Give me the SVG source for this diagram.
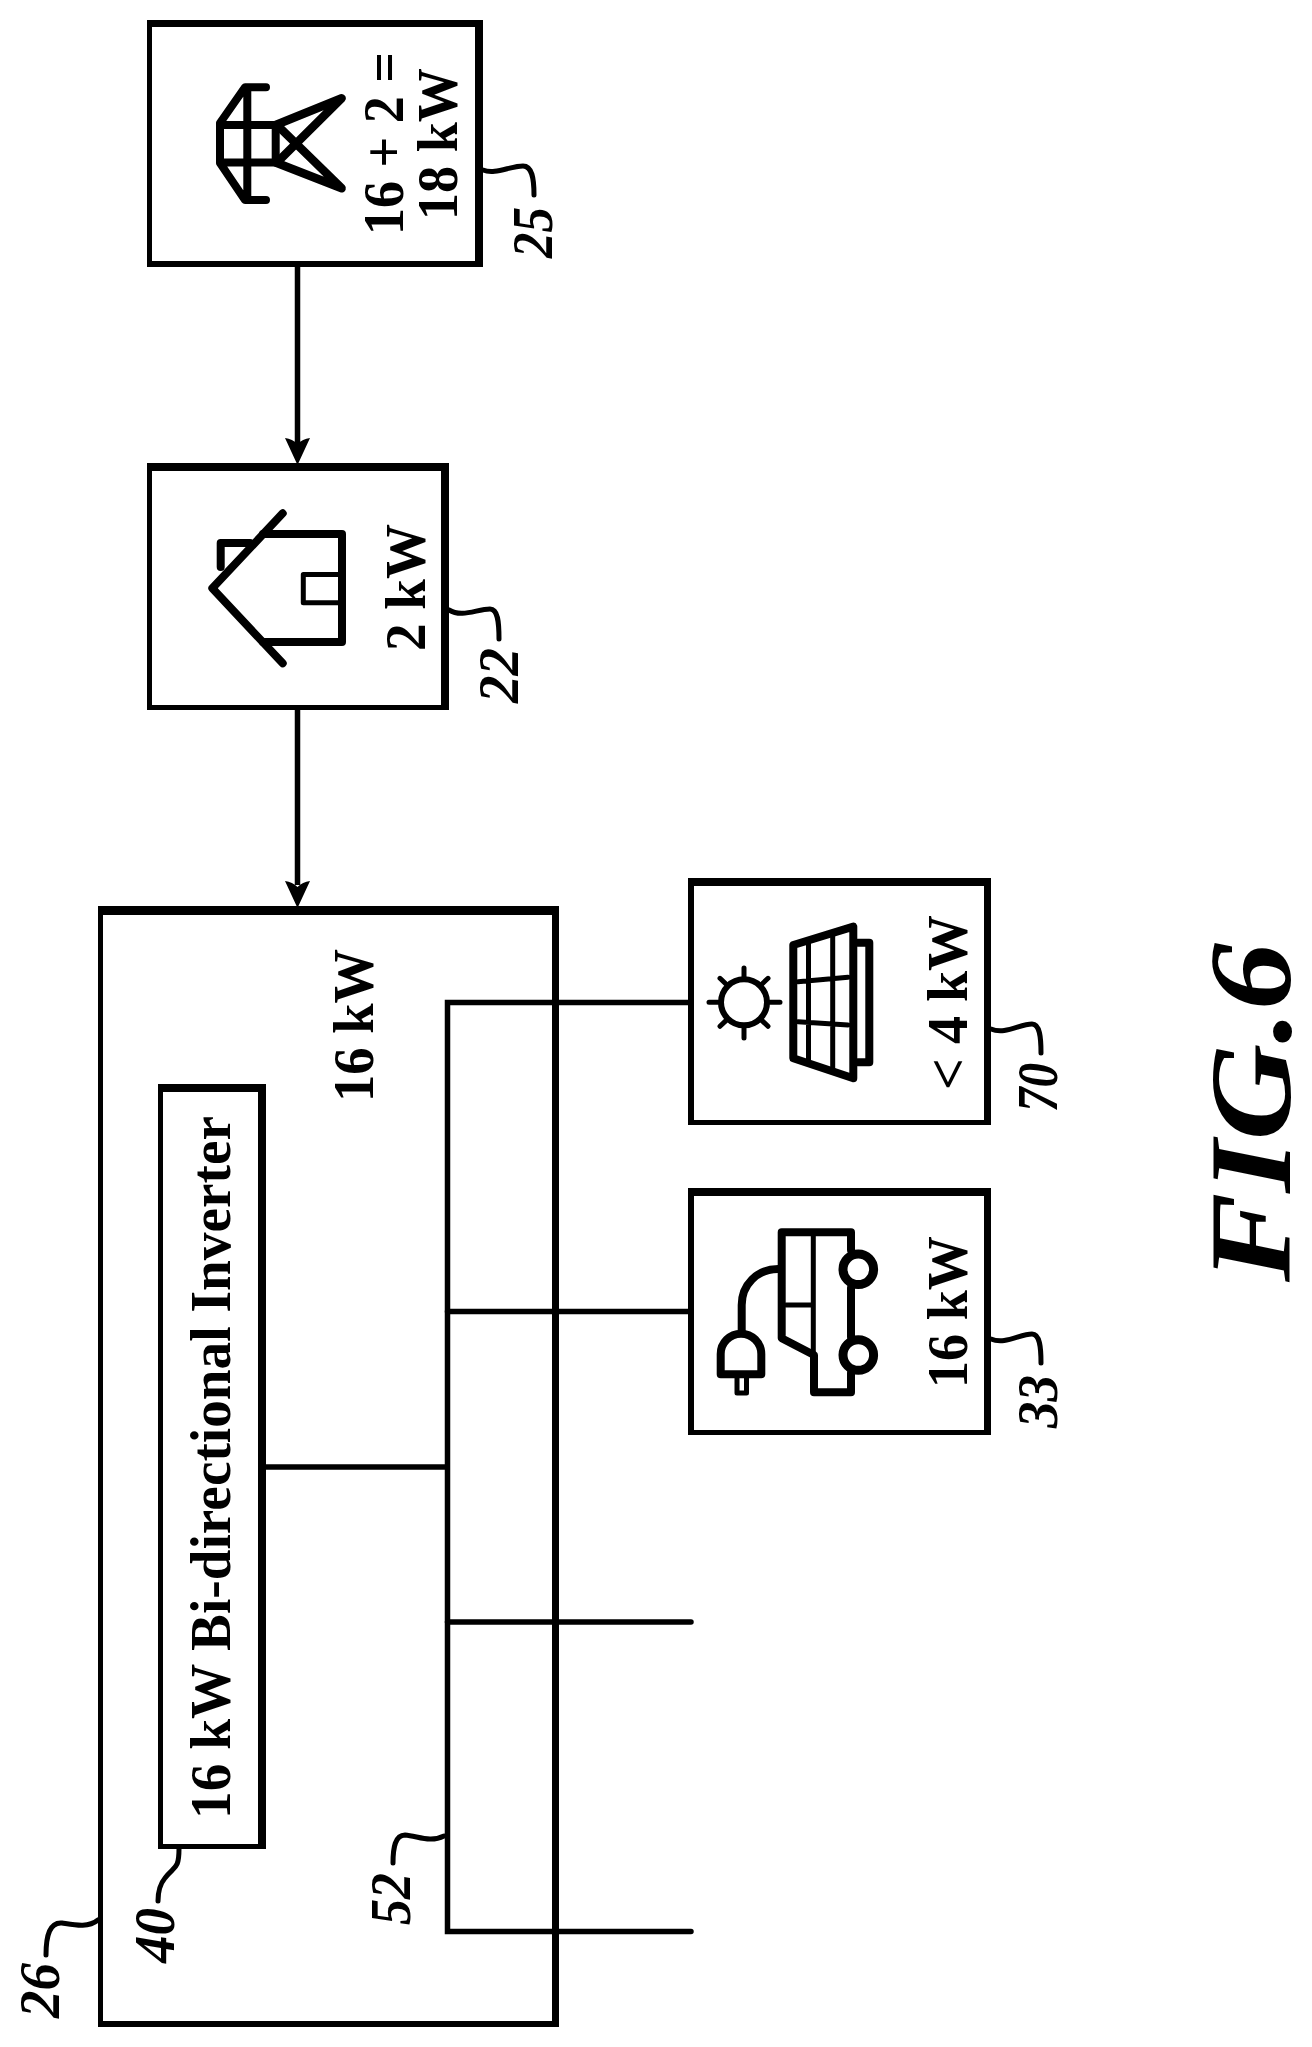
<svg xmlns="http://www.w3.org/2000/svg" width="1312" height="2047" viewBox="0 0 1312 2047">
<style>
.f{fill:#000;fill-rule:evenodd;stroke:none}
.t{font-family:"Liberation Serif","Times New Roman",serif;font-weight:bold;font-size:57px;fill:#000}
.n{font-family:"Liberation Serif","Times New Roman",serif;font-weight:bold;font-style:italic;font-size:57px;fill:#000}
.c{fill:none;stroke:#000;stroke-width:5.5}
.l{fill:none;stroke:#000;stroke-width:5;stroke-linecap:round}
.i{fill:none;stroke:#000;stroke-width:8;stroke-linecap:round;stroke-linejoin:round}
.j{fill:none;stroke:#000;stroke-width:5;stroke-linecap:round;stroke-linejoin:round}
</style>
<defs><path id="ah" d="M0 0L-12.5 -27Q-5 -26 0 -21Q5 -26 12.500 -27Z" fill="#000"/></defs>
<rect width="1312" height="2047" fill="#fff"/>
<g id="connectors">
<path class="c" d="M297.500 267V445M297.500 710V885"/>
<use href="#ah" x="297.500" y="465"/>
<use href="#ah" x="297.500" y="908"/>
<path class="c" d="M691 1002.500H447.500V1931.500H691" stroke-linecap="round"/>
<path class="c" d="M447.500 1311.500H690M447.500 1622H691" stroke-linecap="round"/>
<path class="c" d="M266 1467H447.500"/>
</g>
<g id="node-25">
<path class="f" d="M147 20H483V267H147ZM152 27V261H475V27Z"/>
<g class="i">
<path d="M266 87.300H245L220 123V163L245 200H266M247.300 87.300V200M220 125H275.700V162.500H220"/>
<path d="M275.700 125L341.700 98.300L277 162.500M275.700 162.500L341.700 188.300L277 125" stroke-width="8.500"/>
</g>
<text class="t" transform="translate(403 235) rotate(-90)" textLength="183" lengthAdjust="spacingAndGlyphs" xml:space="preserve">16 + 2 =</text>
<text class="t" transform="translate(457 220) rotate(-90)" textLength="152" lengthAdjust="spacingAndGlyphs">18 kW</text>
<path class="l" d="M483 170C495 175 510 166 523 166C532 166 534 178 534 195"/>
<text class="n" transform="translate(552 258) rotate(-90)" textLength="51" lengthAdjust="spacingAndGlyphs">25</text>
</g>
<g id="node-22">
<path class="f" d="M147 463H449V710H147ZM152 471V705H441V471Z"/>
<path class="i" d="M282.700 513.300L212.300 588.300L282.700 663.300" stroke-width="9"/>
<path class="i" d="M263 534H342V642H263M250 543H220.700V567"/>
<path class="j" d="M340 574.500H303.300V602.700H340" stroke-linecap="butt"/>
<text class="t" transform="translate(425 651) rotate(-90)" textLength="127" lengthAdjust="spacingAndGlyphs">2 kW</text>
<path class="l" d="M449 610C462 618 477 609 490 609C498 609 499 622 499 639"/>
<text class="n" transform="translate(518 703) rotate(-90)" textLength="55" lengthAdjust="spacingAndGlyphs">22</text>
</g>
<g id="node-70">
<path class="f" d="M688 878H991V1125H688ZM694 886V1120H984V886Z"/>
<circle cx="744" cy="1002.300" r="23" fill="none" stroke="#000" stroke-width="6"/>
<path class="j" stroke-width="5.500" d="M709 1002.300H718M770 1002.300H780M744 968V977M744 1028V1038M720 978.300L727 985M768 978.300L761 985M720 1026.300L727 1019.600M768 1026.300L761 1019.600"/>
<path class="i" d="M793.300 945L853.300 926.700V1078.300L793.300 1058.300Z"/>
<path class="j" stroke-linecap="butt" d="M808.500 941V1063M832.700 933V1071M798 981.700L848 977.300M798 1021.700L848 1025"/>
<path class="i" stroke-width="6" d="M857.700 942.700H869.300V1062.300H857.700"/>
<text class="t" transform="translate(967 1090) rotate(-90)" textLength="175" lengthAdjust="spacingAndGlyphs" xml:space="preserve">&lt; 4 kW</text>
<path class="l" d="M991 1029C1005 1035 1020 1024 1032 1024C1040 1024 1041 1038 1041 1053"/>
<text class="n" transform="translate(1057 1112) rotate(-90)" textLength="49" lengthAdjust="spacingAndGlyphs">70</text>
</g>
<g id="node-33">
<path class="f" d="M688 1188H991V1435H688ZM694 1196V1430H984V1196Z"/>
<path class="i" stroke-width="8.500" d="M851 1250V1232.300H781.700V1338.300L814 1355V1392.300H851V1373M851 1288V1337"/>
<circle cx="858.300" cy="1269.300" r="15.300" fill="none" stroke="#000" stroke-width="9"/>
<circle cx="858.300" cy="1355" r="15.300" fill="none" stroke="#000" stroke-width="9"/>
<path class="j" stroke-linecap="butt" d="M813.300 1236V1353M786 1305H813"/>
<path class="i" d="M778 1269C757 1269 741.700 1285 741.700 1305V1332"/>
<path class="i" d="M720.700 1374.300V1354A20.300 20.300 0 0 1 761.300 1354V1374.300Z"/>
<path class="j" stroke-width="4" d="M737 1378V1393H746.500V1378"/>
<text class="t" transform="translate(967 1388) rotate(-90)" textLength="152" lengthAdjust="spacingAndGlyphs">16 kW</text>
<path class="l" d="M991 1339C1005 1345 1020 1334 1032 1334C1040 1334 1041 1348 1041 1363"/>
<text class="n" transform="translate(1057 1428) rotate(-90)" textLength="53" lengthAdjust="spacingAndGlyphs">33</text>
</g>
<g id="node-26">
<path class="f" d="M98 906H559V2027H98ZM103 915V2021H552V915Z"/>
<text class="t" transform="translate(373 1102) rotate(-90)" textLength="153" lengthAdjust="spacingAndGlyphs">16 kW</text>
<path class="l" d="M98 1920C88 1928 75 1925 62 1923C50 1922 46 1935 46 1955"/>
<text class="n" transform="translate(59 2018) rotate(-90)" textLength="55" lengthAdjust="spacingAndGlyphs">26</text>
<path class="l" d="M444 1836C430 1843 418 1836 405 1835C395 1835 393 1848 393 1863"/>
<text class="n" transform="translate(410 1925) rotate(-90)" textLength="52" lengthAdjust="spacingAndGlyphs">52</text>
</g>
<g id="node-40">
<path class="f" d="M158 1084H266V1849H158ZM163 1092V1844H258V1092Z"/>
<text class="t" transform="translate(230 1819) rotate(-90)" textLength="703" lengthAdjust="spacingAndGlyphs">16 kW Bi-directional Inverter</text>
<path class="l" d="M179 1849C179 1870 174 1866 165 1878C160 1884 158 1890 158 1901"/>
<text class="n" transform="translate(174 1963) rotate(-90)" textLength="55" lengthAdjust="spacingAndGlyphs">40</text>
</g>
<text class="n" transform="translate(1290 1282) rotate(-90)" style="font-size:116px" textLength="339" lengthAdjust="spacingAndGlyphs">FIG.6</text>
</svg>
